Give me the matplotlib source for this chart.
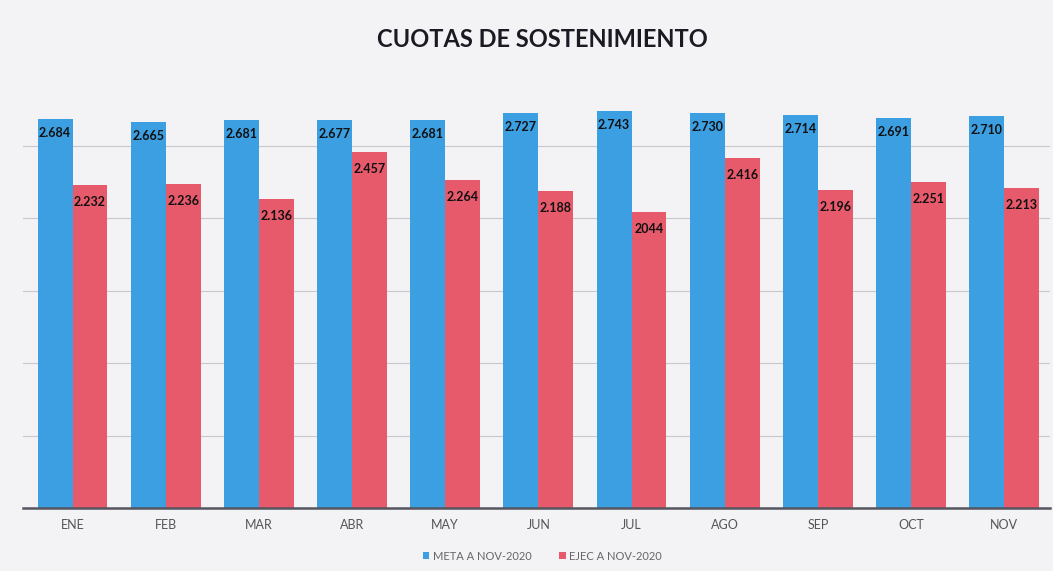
import matplotlib
matplotlib.use("Agg")
import matplotlib.pyplot as plt
import numpy as np

months = ["ENE", "FEB", "MAR", "ABR", "MAY", "JUN", "JUL", "AGO", "SEP", "OCT", "NOV"]
meta = [2.684, 2.665, 2.681, 2.677, 2.681, 2.727, 2.743, 2.730, 2.714, 2.691, 2.710]
ejec = [2.232, 2.236, 2.136, 2.457, 2.264, 2.188, 2.044, 2.416, 2.196, 2.251, 2.213]
meta_labels = ["2.684", "2.665", "2.681", "2.677", "2.681", "2.727", "2.743", "2.730", "2.714", "2.691", "2.710"]
ejec_labels = ["2.232", "2.236", "2.136", "2.457", "2.264", "2.188", "2044", "2.416", "2.196", "2.251", "2.213"]
series_names = ["META A NOV-2020", "EJEC A NOV-2020"]

plt.rcParams['font.family'] = ['Lato', 'DejaVu Sans']

BLUE = "#3b9fe2"
RED = "#e65a6c"
BG = "#f3f3f6"

fig = plt.figure(figsize=(10.53, 5.71), dpi=100, facecolor=BG)
ax = fig.add_axes([0.022, 0.110, 0.975, 0.723])
ax.set_facecolor(BG)

x = np.arange(len(months))
w = 0.375
b1 = ax.bar(x - w / 2, meta, width=w, color=BLUE, label=series_names[0], zorder=3)
b2 = ax.bar(x + w / 2, ejec, width=w, color=RED, label=series_names[1], zorder=3)

for rect, lab in zip(b1, meta_labels):
    ax.annotate(lab, (rect.get_x() + rect.get_width() / 2, rect.get_height()),
                xytext=(0, -14), textcoords="offset points" if False else "offset pixels",
                ha="center", va="center", fontsize=9, fontweight="bold", color="#111111", zorder=4)
for rect, lab in zip(b2, ejec_labels):
    ax.annotate(lab, (rect.get_x() + rect.get_width() / 2, rect.get_height()),
                xytext=(0, -17), textcoords="offset pixels",
                ha="center", va="center", fontsize=9, fontweight="bold", color="#111111", zorder=4)

ax.set_xlim(-0.53, 10.49)
ax.set_ylim(0, 2.85)
ax.set_yticks([0.5, 1.0, 1.5, 2.0, 2.5])
ax.yaxis.grid(True, color="#c8c8cc", linewidth=0.8, zorder=0)
ax.tick_params(axis="y", left=False, labelleft=False)
ax.set_xticks(x)
ax.set_xticklabels(months, fontsize=9, color="#555555")
ax.tick_params(axis="x", length=0, pad=8)
for s in ["top", "right", "left"]:
    ax.spines[s].set_visible(False)
ax.spines["bottom"].set_color("#555560")
ax.spines["bottom"].set_linewidth(1.8)
ax.spines["bottom"].set_zorder(5)

fig.text(0.515, 0.93, "CUOTAS DE SOSTENIMIENTO", ha="center", va="center",
         fontsize=17, fontweight="bold", color="#1a1a22")

fig.legend(handles=[b1, b2], labels=series_names, loc="center", bbox_to_anchor=(0.515, 0.026),
           ncol=2, frameon=False, fontsize=8, handlelength=0.6, handleheight=0.6,
           handletextpad=0.3, columnspacing=2.5, labelcolor="#666666")

fig.savefig("out.png", dpi=100, facecolor=BG)
